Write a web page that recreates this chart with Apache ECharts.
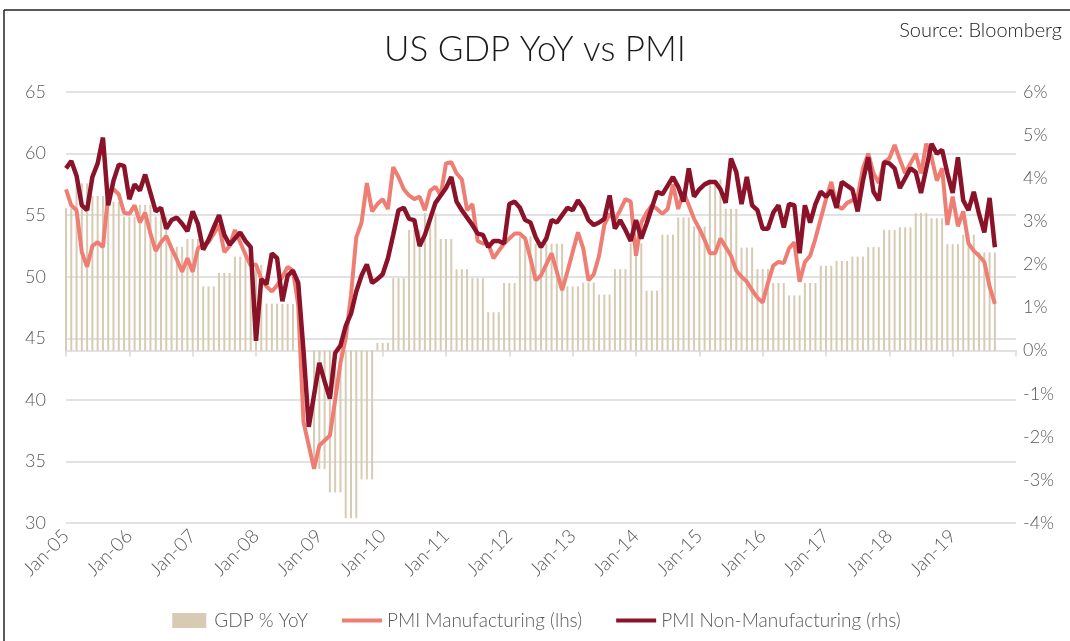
<!DOCTYPE html>
<html>
<head>
<meta charset="utf-8">
<title>US GDP YoY vs PMI</title>
<script src="https://cdn.jsdelivr.net/npm/echarts@6/dist/echarts.min.js"></script>
<style>
  html, body { margin: 0; padding: 0; background: #fff; }
  #chart { width: 1070px; height: 641px; }
</style>
</head>
<body>
<div id="chart"></div>
<script>
// month labels Jan-05 ... Dec-19, plus Jan-20 as the axis end
const monthNames = ['Jan', 'Feb', 'Mar', 'Apr', 'May', 'Jun', 'Jul', 'Aug', 'Sep', 'Oct', 'Nov', 'Dec'];
const categories = [];
for (let y = 5; y <= 19; y++) {
  for (const mn of monthNames) categories.push(mn + '-' + String(y).padStart(2, '0'));
}
categories.push('Jan-20');

// PMI Manufacturing, monthly Jan-05 .. Sep-19
const mfgPmi = [
  57.1, 55.8, 55.4, 52.0, 50.8, 52.5, 52.8, 52.4, 56.7, 57.1, 56.7, 55.2, // 2005
  55.1, 55.8, 54.4, 55.2, 53.5, 52.1, 52.8, 53.3, 52.3, 51.4, 50.4, 51.5, // 2006
  50.4, 52.3, 52.6, 52.8, 53.5, 54.2, 52.0, 52.5, 53.8, 52.8, 51.8, 50.9, // 2007
  51.0, 49.8, 49.2, 48.8, 49.3, 50.0, 50.8, 50.5, 47.7, 38.2, 36.3, 34.4, // 2008
  36.3, 36.7, 37.1, 40.0, 43.0, 45.0, 48.5, 53.2, 54.4, 57.6, 55.3, 55.9, // 2009
  56.3, 55.5, 58.9, 58.1, 57.1, 56.6, 56.3, 56.5, 55.4, 57.0, 57.3, 56.6, // 2010
  59.2, 59.3, 58.4, 57.9, 55.4, 55.9, 52.9, 52.7, 52.7, 51.5, 52.1, 52.7, // 2011
  53.1, 53.5, 53.5, 53.1, 51.5, 49.7, 50.1, 51.0, 51.9, 50.4, 48.9, 50.4, // 2012
  52.0, 53.6, 52.3, 49.7, 50.2, 51.7, 54.2, 55.1, 54.6, 55.4, 56.3, 56.1, // 2013
  51.7, 54.4, 55.2, 55.8, 55.5, 55.1, 55.5, 57.5, 55.5, 56.9, 55.8, 54.7, // 2014
  53.9, 53.0, 51.9, 51.9, 53.1, 52.4, 51.7, 50.5, 50.0, 49.6, 48.9, 48.3, // 2015
  47.9, 49.5, 50.9, 51.2, 51.1, 52.3, 52.8, 49.6, 51.2, 51.7, 53.1, 54.7, // 2016
  56.3, 57.7, 55.8, 55.5, 56.0, 56.2, 56.5, 58.8, 60.0, 58.4, 57.6, 59.3, // 2017
  59.6, 60.7, 59.5, 58.4, 59.2, 60.0, 58.4, 60.8, 59.7, 57.8, 58.8, 54.2, // 2018
  56.5, 54.1, 55.3, 52.7, 52.1, 51.7, 51.2, 49.2, 47.8                    // 2019
];

// PMI Non-Manufacturing, monthly Jan-05 .. Sep-19
const nonMfgPmi = [
  58.8, 59.4, 58.2, 55.8, 55.4, 58.1, 59.2, 61.3, 55.8, 57.8, 59.1, 59.0, // 2005
  56.3, 57.5, 57.0, 58.3, 56.8, 55.3, 55.6, 53.9, 54.6, 54.8, 54.3, 53.7, // 2006
  55.3, 54.3, 52.2, 53.0, 54.0, 55.0, 53.4, 52.6, 53.1, 53.6, 52.9, 52.4, // 2007
  44.8, 49.8, 49.4, 51.9, 51.5, 48.0, 50.1, 50.5, 49.5, 44.0, 37.8, 40.4, // 2008
  43.0, 41.5, 40.1, 43.8, 44.4, 46.0, 47.0, 48.8, 50.1, 51.0, 49.5, 49.8, // 2009
  50.2, 51.5, 53.4, 55.4, 55.6, 54.7, 54.6, 52.5, 53.4, 54.7, 56.0, 56.6, // 2010
  57.2, 58.1, 56.1, 55.4, 54.8, 54.2, 53.5, 53.4, 52.4, 52.9, 52.9, 52.7, // 2011
  55.9, 56.1, 55.6, 54.6, 54.4, 53.2, 52.4, 53.1, 54.6, 54.4, 55.0, 55.6, // 2012
  55.4, 56.2, 55.6, 54.6, 54.2, 54.4, 54.7, 56.6, 53.9, 54.6, 53.8, 52.9, // 2013
  54.6, 53.1, 54.3, 55.6, 56.9, 56.7, 57.4, 58.1, 57.3, 56.1, 58.8, 56.5, // 2014
  57.1, 57.5, 57.7, 57.7, 57.1, 56.0, 59.6, 58.5, 55.9, 58.1, 55.8, 55.4, // 2015
  53.9, 53.9, 55.2, 55.8, 54.0, 55.9, 55.8, 51.9, 55.8, 54.4, 55.9, 56.9, // 2016
  56.5, 57.0, 55.6, 57.7, 57.4, 57.1, 55.3, 57.8, 59.7, 56.9, 56.2, 59.3, // 2017
  59.2, 58.8, 57.2, 58.0, 58.8, 58.5, 56.8, 58.8, 60.8, 60.0, 60.3, 58.4, // 2018
  56.8, 59.7, 56.2, 55.4, 56.9, 55.1, 53.6, 56.4, 52.4                    // 2019
];

// GDP % YoY, quarterly Q4-04 .. Q2-19 (shown from the quarter's last month on)
const gdpQuarterly = [
  3.30,
  3.88, 3.59, 3.45, 3.11,   // 2005
  3.38, 3.11, 2.41, 2.59,   // 2006
  1.49, 1.80, 2.18, 1.99,   // 2007
  1.09, 1.08, 0.00, -2.75,  // 2008
  -3.29, -3.89, -2.99, 0.18, // 2009
  1.68, 2.80, 3.19, 2.59,   // 2010
  1.89, 1.68, 0.89, 1.57,   // 2011
  2.65, 2.48, 2.48, 1.49,   // 2012
  1.58, 1.30, 1.89, 2.49,   // 2013
  1.39, 2.69, 3.09, 2.88,   // 2014
  3.97, 3.29, 2.39, 1.89,   // 2015
  1.57, 1.28, 1.57, 1.97,   // 2016
  2.08, 2.18, 2.40, 2.80,   // 2017
  2.86, 3.19, 3.07, 2.47,   // 2018
  2.69, 2.28                // 2019
];

// forward-fill the quarterly value into the monthly slots
const gdpMonthly = mfgPmi.map((_, m) => {
  const q = m < 2 ? 0 : Math.min(Math.floor((m + 1) / 3), gdpQuarterly.length - 1);
  return gdpQuarterly[q];
});

const FONT = 'Lato';
const GREY = '#595959';
// legend icons: box 40x15, a thin bar for the lines, a narrower block for the bars
const LINE_ICON = 'path://M0,0M0,5.5L40,5.5L40,9.5L0,9.5ZM40,15';
const BAR_ICON = 'path://M0,0M3,0L37,0L37,15L3,15ZM40,15';

const chart = echarts.init(document.getElementById('chart'), null, { renderer: 'canvas' });

chart.setOption({
  backgroundColor: '#fff',
  animation: false,
  textStyle: { fontFamily: FONT },
  title: [
    {
      text: 'US GDP YoY vs PMI',
      left: 'center',
      top: 27,
      textStyle: { fontFamily: FONT, fontSize: 35, fontWeight: 300, color: '#1a1a1a' }
    },
    {
      text: 'Source: Bloomberg',
      right: 3,
      top: 16,
      textStyle: { fontFamily: FONT, fontSize: 20, fontWeight: 300, color: '#222' }
    }
  ],
  grid: { left: 66, right: 54, top: 92, bottom: 118 },
  legend: {
    bottom: 6,
    left: 'center',
    itemGap: 34,
    itemWidth: 40,
    itemHeight: 15,
    textStyle: { fontFamily: FONT, fontSize: 19, fontWeight: 300, color: GREY },
    data: [
      { name: 'GDP % YoY', icon: BAR_ICON },
      { name: 'PMI Manufacturing (lhs)', icon: LINE_ICON },
      { name: 'PMI Non-Manufacturing (rhs)', icon: LINE_ICON }
    ]
  },
  xAxis: {
    type: 'category',
    data: categories,
    boundaryGap: false,
    axisLine: { lineStyle: { color: '#d9d9d9', width: 1.5 } },
    axisTick: { interval: 11, length: 6, lineStyle: { color: '#d9d9d9', width: 1.5 } },
    axisLabel: {
      interval: 11,
      rotate: 45,
      margin: 10,
      color: GREY,
      fontSize: 19,
      fontWeight: 300,
      formatter: v => (v === 'Jan-20' ? '' : v)
    },
    splitLine: { show: false }
  },
  yAxis: [
    {
      type: 'value',
      min: 30,
      max: 65,
      interval: 5,
      axisLine: { show: false },
      axisTick: { show: false },
      axisLabel: { color: GREY, fontSize: 18, fontWeight: 300, margin: 20 },
      splitLine: { lineStyle: { color: '#d9d9d9', width: 1.5 } }
    },
    {
      type: 'value',
      min: -4,
      max: 6,
      interval: 1,
      axisLine: { show: false },
      axisTick: { show: false },
      axisLabel: { color: GREY, fontSize: 18, fontWeight: 300, margin: 7, formatter: '{value}%' },
      splitLine: { show: false }
    }
  ],
  series: [
    {
      name: 'GDP % YoY',
      type: 'bar',
      yAxisIndex: 1,
      data: gdpMonthly,
      barWidth: 2,
      itemStyle: { color: '#d7cbb3' },
      silent: true
    },
    {
      name: 'PMI Manufacturing (lhs)',
      type: 'line',
      yAxisIndex: 0,
      data: mfgPmi,
      symbol: 'none',
      lineStyle: { color: '#ee7d73', width: 4 },
      itemStyle: { color: '#ee7d73' }
    },
    {
      name: 'PMI Non-Manufacturing (rhs)',
      type: 'line',
      yAxisIndex: 0,
      data: nonMfgPmi,
      symbol: 'none',
      lineStyle: { color: '#8a1229', width: 4.5 },
      itemStyle: { color: '#8a1229' }
    }
  ],
  graphic: [
    // thin dark frame on the left and top edges of the picture
    { type: 'line', shape: { x1: 4, y1: 10, x2: 4, y2: 641 }, style: { stroke: '#222', lineWidth: 1.5 } },
    { type: 'line', shape: { x1: 4, y1: 10, x2: 1070, y2: 10 }, style: { stroke: '#222', lineWidth: 1.5 } }
  ]
});
</script>
</body>
</html>
